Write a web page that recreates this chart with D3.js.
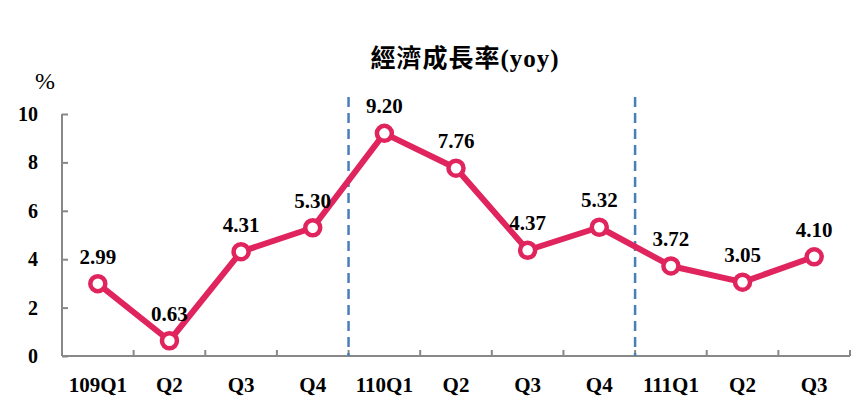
<!DOCTYPE html>
<html>
<head>
<meta charset="utf-8">
<script src="https://cdn.jsdelivr.net/npm/d3@7"></script>
<style>
  body { margin: 0; background: #fff; }
  text { font-family: "Liberation Serif", "Noto Sans CJK TC", serif; font-weight: bold; fill: #000; }
</style>
</head>
<body>
<div id="chart"></div>
<script>
var categories = ["109Q1", "Q2", "Q3", "Q4", "110Q1", "Q2", "Q3", "Q4", "111Q1", "Q2", "Q3"];
var values = [2.99, 0.63, 4.31, 5.30, 9.20, 7.76, 4.37, 5.32, 3.72, 3.05, 4.10];
var yTicks = [0, 2, 4, 6, 8, 10];
var yearBreaks = [4, 8]; // dashed lines before these category indexes
var title = "經濟成長率(yoy)";

var width = 868, height = 412;
var margin = { top: 114, right: 18, bottom: 56, left: 62 };
var color = "#e0245e";

var svg = d3.select("#chart")
    .append("svg")
    .attr("width", width)
    .attr("height", height);

var x = d3.scaleBand()
    .domain(d3.range(categories.length))
    .range([margin.left, width - margin.right]);

var y = d3.scaleLinear()
    .domain([0, 10])
    .range([height - margin.bottom, margin.top]);

// axes
var xAxis = svg.append("g")
    .attr("transform", "translate(0," + y(0) + ")")
    .call(d3.axisBottom(x).tickSize(0).tickFormat(function(i) { return categories[i]; }));
xAxis.select(".domain").remove();
xAxis.selectAll("text")
    .attr("dy", "0")
    .attr("y", 36)
    .style("font-size", "21px");

// x ticks between categories
var bounds = d3.range(1, categories.length + 1).map(function(i) { return margin.left + i * x.bandwidth(); });
svg.selectAll(".xtick")
    .data(bounds)
    .enter()
    .append("line")
    .attr("x1", function(d) { return d; })
    .attr("x2", function(d) { return d; })
    .attr("y1", y(0))
    .attr("y2", y(0) - 6)
    .attr("stroke", "#888")
    .attr("stroke-width", 2);

var yAxis = svg.append("g")
    .attr("transform", "translate(" + margin.left + ",0)")
    .call(d3.axisRight(y).tickValues(yTicks).tickSize(6).tickFormat(d3.format("d")));
yAxis.select(".domain").remove();
yAxis.selectAll("line").attr("stroke", "#888").attr("stroke-width", 2);
yAxis.selectAll("text")
    .attr("x", -24)
    .attr("text-anchor", "end")
    .style("font-size", "20px");

svg.append("line")
    .attr("x1", margin.left)
    .attr("x2", margin.left)
    .attr("y1", y(10))
    .attr("y2", y(0))
    .attr("stroke", "#888")
    .attr("stroke-width", 2);
svg.append("line")
    .attr("x1", margin.left)
    .attr("x2", width - margin.right)
    .attr("y1", y(0))
    .attr("y2", y(0))
    .attr("stroke", "#888")
    .attr("stroke-width", 2);

// year separators
svg.selectAll(".sep")
    .data(yearBreaks)
    .enter()
    .append("line")
    .attr("x1", function(d) { return x(d); })
    .attr("x2", function(d) { return x(d); })
    .attr("y1", 97)
    .attr("y2", y(0))
    .attr("stroke", "#4a7ebb")
    .attr("stroke-width", 2.5)
    .attr("stroke-dasharray", "10,6");

// line
var line = d3.line()
    .x(function(d, i) { return x(i) + x.bandwidth() / 2; })
    .y(function(d) { return y(d); });

svg.append("path")
    .datum(values)
    .attr("d", line)
    .attr("fill", "none")
    .attr("stroke", color)
    .attr("stroke-width", 6)
    .attr("stroke-linejoin", "round");

svg.selectAll(".dot")
    .data(values)
    .enter()
    .append("circle")
    .attr("cx", function(d, i) { return x(i) + x.bandwidth() / 2; })
    .attr("cy", function(d) { return y(d); })
    .attr("r", 7.5)
    .attr("fill", "#fff")
    .attr("stroke", color)
    .attr("stroke-width", 4.5);

svg.selectAll(".lbl")
    .data(values)
    .enter()
    .append("text")
    .attr("x", function(d, i) { return x(i) + x.bandwidth() / 2; })
    .attr("y", function(d) { return y(d) - 20; })
    .attr("text-anchor", "middle")
    .style("font-size", "21px")
    .text(function(d) { return d.toFixed(2); });

// title and unit
svg.append("text")
    .attr("x", 465)
    .attr("y", 67)
    .attr("text-anchor", "middle")
    .style("font-size", "25px")
    .style("letter-spacing", "1px")
    .text(title);

svg.append("text")
    .attr("x", 45)
    .attr("y", 89)
    .attr("text-anchor", "middle")
    .style("font-size", "24px")
    .style("font-weight", "normal")
    .text("%");
</script>
</body>
</html>
